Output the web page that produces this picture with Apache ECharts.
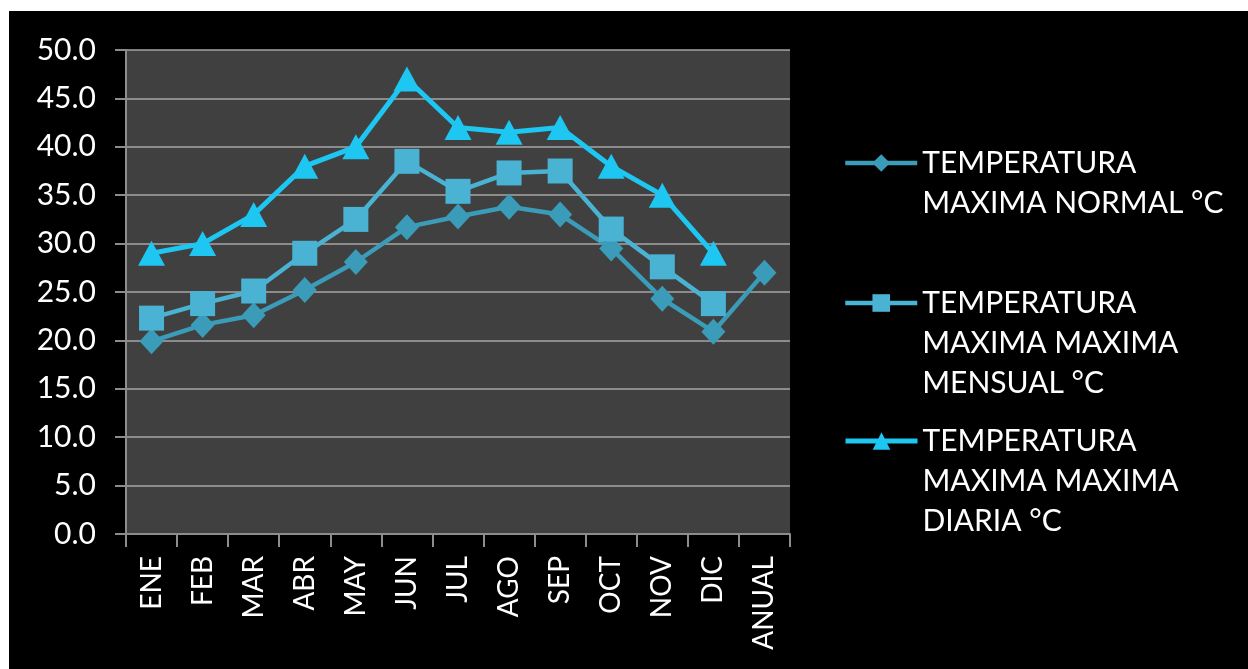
<!DOCTYPE html>
<html>
<head>
<meta charset="utf-8">
<script src="https://cdn.jsdelivr.net/npm/echarts@6/dist/echarts.min.js"></script>
<style>
html,body{margin:0;padding:0;background:#ffffff;width:1248px;height:669px;overflow:hidden;}
#chart{position:absolute;left:9px;top:11px;width:1239px;height:658px;background:#000;}
</style>
</head>
<body>
<div id="chart"></div>
<script>
const categories = ['ENE','FEB','MAR','ABR','MAY','JUN','JUL','AGO','SEP','OCT','NOV','DIC','ANUAL'];
const seriesNames = ['TEMPERATURA MAXIMA NORMAL °C','TEMPERATURA MAXIMA MAXIMA MENSUAL °C','TEMPERATURA MAXIMA MAXIMA DIARIA °C'];
const legendLabels = ['TEMPERATURA\nMAXIMA NORMAL °C','TEMPERATURA\nMAXIMA MAXIMA\nMENSUAL °C','TEMPERATURA\nMAXIMA MAXIMA\nDIARIA °C'];
const maxNormal  = [19.9, 21.6, 22.6, 25.2, 28.1, 31.7, 32.8, 33.8, 33.0, 29.5, 24.3, 20.9, 27.0];
const maxMensual = [22.3, 23.8, 25.1, 29.0, 32.5, 38.5, 35.4, 37.3, 37.5, 31.5, 27.6, 23.8, null];
const maxDiaria  = [29.0, 30.0, 33.0, 38.0, 40.0, 47.0, 42.0, 41.5, 42.0, 38.0, 35.0, 29.0, null];
const yTicks = {min: 0, max: 50, interval: 5};

const FONT = 'Lato';
const colors = ['#3a9cb8', '#4ab2d2', '#1ec6f2'];
const lineWidths = [4.5, 4.5, 5];

const chart = echarts.init(document.getElementById('chart'), null, {renderer: 'canvas'});

function legendFor(i, top, blanks) {
  return {
    data: [seriesNames[i]],
    left: 834,
    top: top,
    padding: 0,
    itemWidth: 72,
    itemHeight: 22,
    itemGap: 0,
    orient: 'vertical',
    lineStyle: {width: lineWidths[i]},
    formatter: function () { return '\n'.repeat(blanks) + legendLabels[i]; },
    textStyle: {color: '#ffffff', fontFamily: FONT, fontSize: 30, lineHeight: 40}
  };
}

const option = {
  backgroundColor: '#000000',
  animation: false,
  textStyle: {fontFamily: FONT},
  grid: {left: 117, top: 39, right: 458, bottom: 135, show: true, backgroundColor: '#404040', borderWidth: 0, containLabel: false},
  legend: [legendFor(0, 92, 1), legendFor(1, 192, 2), legendFor(2, 330, 2)],
  xAxis: {
    type: 'category',
    data: categories,
    boundaryGap: true,
    axisLine: {show: true, lineStyle: {color: '#8c8c8c', width: 2}},
    axisTick: {show: true, length: 13, lineStyle: {color: '#8c8c8c', width: 2}},
    axisLabel: {rotate: 90, color: '#ffffff', fontFamily: FONT, fontSize: 28, margin: 22},
    splitLine: {show: false}
  },
  yAxis: {
    type: 'value',
    min: yTicks.min, max: yTicks.max, interval: yTicks.interval,
    axisLine: {show: true, lineStyle: {color: '#8c8c8c', width: 2}},
    axisTick: {show: true, length: 11, lineStyle: {color: '#8c8c8c', width: 2}},
    axisLabel: {color: '#ffffff', fontFamily: FONT, fontSize: 30, margin: 30, formatter: v => v.toFixed(1)},
    splitLine: {show: true, lineStyle: {color: '#a6a6a6', width: 1.5}}
  },
  series: [
    {name: seriesNames[0], type: 'line', data: maxNormal, symbol: 'diamond', symbolSize: [24, 26],
     itemStyle: {color: colors[0]}, lineStyle: {color: colors[0], width: lineWidths[0]}, connectNulls: false},
    {name: seriesNames[1], type: 'line', data: maxMensual, symbol: 'rect', symbolSize: 25,
     itemStyle: {color: colors[1]}, lineStyle: {color: colors[1], width: lineWidths[1]}},
    {name: seriesNames[2], type: 'line', data: maxDiaria, symbol: 'triangle', symbolSize: [27, 25],
     itemStyle: {color: colors[2]}, lineStyle: {color: colors[2], width: lineWidths[2]}}
  ]
};
chart.setOption(option);
</script>
</body>
</html>
